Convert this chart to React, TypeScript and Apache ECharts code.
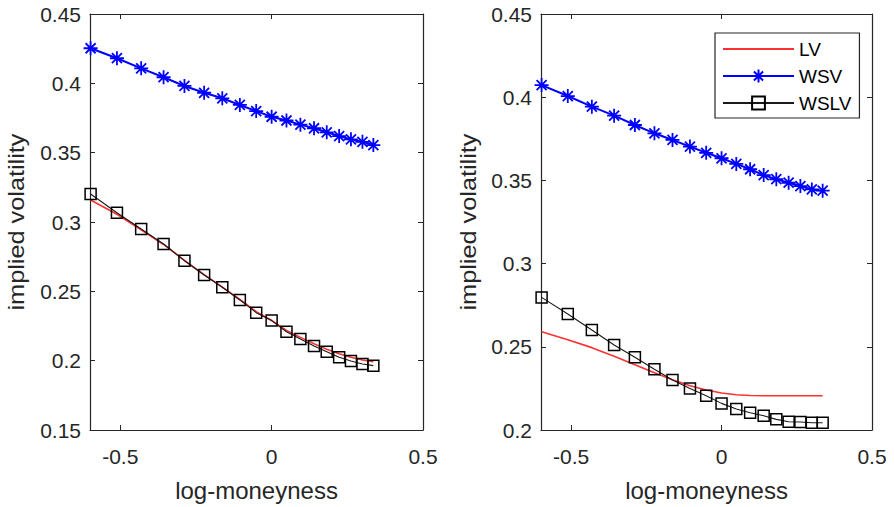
import React, { useEffect, useRef } from "react";
import * as echarts from "echarts";

// ---- data ----
const logMoneyness = [-0.598, -0.511, -0.431, -0.357, -0.288, -0.223, -0.163, -0.105, -0.051, 0.0, 0.049, 0.095, 0.14, 0.182, 0.223, 0.262, 0.3, 0.336];

const leftLV = [0.3159, 0.3056, 0.2943, 0.2838, 0.2724, 0.262, 0.253, 0.2441, 0.2353, 0.229, 0.2218, 0.2168, 0.2122, 0.2083, 0.205, 0.2025, 0.2005, 0.1992];
const leftWSV = [0.4253, 0.4181, 0.4108, 0.4044, 0.3981, 0.3932, 0.3892, 0.3844, 0.38, 0.3759, 0.3732, 0.3702, 0.3676, 0.3647, 0.362, 0.3596, 0.3578, 0.3555];
const leftWSLV = [0.3202, 0.3067, 0.295, 0.2841, 0.2721, 0.2618, 0.2529, 0.2438, 0.2346, 0.2289, 0.2209, 0.2157, 0.2106, 0.2065, 0.2025, 0.1998, 0.1976, 0.1964];

const rightLV = [0.259, 0.2543, 0.2495, 0.2443, 0.2392, 0.2344, 0.2302, 0.2266, 0.224, 0.2222, 0.2212, 0.2207, 0.2206, 0.2206, 0.2206, 0.2206, 0.2206, 0.2206];
const rightWSV = [0.4073, 0.4007, 0.3943, 0.3889, 0.3833, 0.3783, 0.3743, 0.3703, 0.3666, 0.3633, 0.3599, 0.3567, 0.3532, 0.3507, 0.3486, 0.3466, 0.3446, 0.3438];
const rightWSLV = [0.2797, 0.2697, 0.2601, 0.2511, 0.2437, 0.2365, 0.23, 0.225, 0.2206, 0.216, 0.2126, 0.2104, 0.2086, 0.2064, 0.205, 0.2048, 0.2044, 0.2044];

const xTickValues = [-0.5, 0, 0.5];
const xRange = [-0.6, 0.5];
const leftYRange = [0.15, 0.45];
const rightYRange = [0.2, 0.45];
const yStep = 0.05;
const seriesNames = ["LV", "WSV", "WSLV"];
const xTitle = "log-moneyness";
const yTitle = "implied volatility";

const FONT = '"Liberation Sans", Arial, Helvetica, sans-serif';
const AX = "#262626";
const RED = "#ff3030";
const BLUE = "#0000ff";
const ASTERISK = "path://M7,0 L7,14 M0,7 L14,7 M2,2 L12,12 M2,12 L12,2";

const pair = (xs: number[], ys: number[]) => xs.map((x, i) => [x, ys[i]]);

function xAxes(gridIndex: number) {
  const base = {
    type: "value" as const,
    gridIndex,
    min: xRange[0],
    max: xRange[1],
    splitLine: { show: false },
    axisLine: { show: true, onZero: false, lineStyle: { color: AX, width: 1.2 } },
    axisTick: { show: true, inside: true, length: 5, lineStyle: { color: AX }, customValues: xTickValues },
  };
  return [
    {
      ...base,
      position: "bottom",
      name: xTitle,
      nameLocation: "middle",
      nameGap: 48,
      nameTextStyle: { fontFamily: FONT, fontSize: 24, color: AX },
      axisLabel: {
        show: true,
        customValues: xTickValues,
        margin: 16,
        fontFamily: FONT,
        fontSize: 21,
        color: AX,
        formatter: (v: number) => String(v),
      },
    },
    { ...base, position: "top", axisLabel: { show: false } },
  ];
}

function yAxes(gridIndex: number, range: number[]) {
  const base = {
    type: "value" as const,
    gridIndex,
    min: range[0],
    max: range[1],
    interval: yStep,
    splitLine: { show: false },
    axisLine: { show: true, onZero: false, lineStyle: { color: AX, width: 1.2 } },
    axisTick: { show: true, inside: true, length: 5, lineStyle: { color: AX } },
  };
  return [
    {
      ...base,
      position: "left",
      axisLabel: {
        show: true,
        margin: 9,
        fontFamily: FONT,
        fontSize: 21,
        color: AX,
        formatter: (v: number) => String(+v.toFixed(2)),
      },
    },
    { ...base, position: "right", axisLabel: { show: false } },
  ];
}

function seriesFor(xIdx: number, yIdx: number, lv: number[], wsv: number[], wslv: number[]) {
  return [
    {
      name: seriesNames[0],
      type: "line",
      xAxisIndex: xIdx,
      yAxisIndex: yIdx,
      data: pair(logMoneyness, lv),
      symbol: "none",
      color: RED,
      lineStyle: { color: RED, width: 1.6 },
      itemStyle: { color: RED },
    },
    {
      name: seriesNames[1],
      type: "line",
      xAxisIndex: xIdx,
      yAxisIndex: yIdx,
      data: pair(logMoneyness, wsv),
      symbol: ASTERISK,
      symbolSize: 14,
      color: BLUE,
      lineStyle: { color: BLUE, width: 2 },
      itemStyle: { color: BLUE, borderColor: BLUE, borderWidth: 1.8 },
    },
    {
      name: seriesNames[2],
      type: "line",
      xAxisIndex: xIdx,
      yAxisIndex: yIdx,
      data: pair(logMoneyness, wslv),
      symbol: "rect",
      symbolSize: 11,
      color: "#000000",
      lineStyle: { color: "#1a1a1a", width: 1.1 },
      itemStyle: { color: "rgba(255,255,255,0)", borderColor: "#000000", borderWidth: 1.5 },
    },
  ];
}

function yTitleText(x: number) {
  return {
    type: "text",
    x,
    y: 222,
    rotation: Math.PI / 2,
    scaleX: 1.15,
    style: {
      text: yTitle,
      fontFamily: FONT,
      fontSize: 22,
      fill: AX,
      align: "center",
      verticalAlign: "middle",
    },
  };
}

export default function App() {
  const ref = useRef<HTMLDivElement>(null);
  useEffect(() => {
    if (!ref.current) return;
    const chart = echarts.init(ref.current, undefined, { renderer: "svg" });
    chart.setOption({
      animation: false,
      backgroundColor: "#ffffff",
      grid: [
        { left: 90, top: 14, width: 333, height: 416, containLabel: false },
        { left: 541, top: 14, width: 331, height: 416, containLabel: false },
      ],
      xAxis: [...xAxes(0), ...xAxes(1)],
      yAxis: [...yAxes(0, leftYRange), ...yAxes(1, rightYRange)],
      graphic: [yTitleText(17), yTitleText(469)],
      legend: {
        show: true,
        orient: "vertical",
        left: 715,
        top: 33,
        padding: [6, 8, 5, 7],
        itemGap: 7,
        itemWidth: 71,
        itemHeight: 16,
        backgroundColor: "#ffffff",
        borderColor: AX,
        borderWidth: 1.2,
        borderRadius: 0,
        textStyle: { fontFamily: FONT, fontSize: 19, color: "#000000", lineHeight: 20 },
        data: [
          { name: seriesNames[0], itemStyle: { opacity: 0 } },
          { name: seriesNames[1] },
          { name: seriesNames[2] },
        ],
        selectedMode: false,
      },
      series: [...seriesFor(0, 0, leftLV, leftWSV, leftWSLV), ...seriesFor(2, 2, rightLV, rightWSV, rightWSLV)],
    });
    return () => chart.dispose();
  }, []);
  return (
    <div
      ref={ref}
      style={{ position: "fixed", left: 0, top: 0, width: 895, height: 507, background: "#fff" }}
    />
  );
}
